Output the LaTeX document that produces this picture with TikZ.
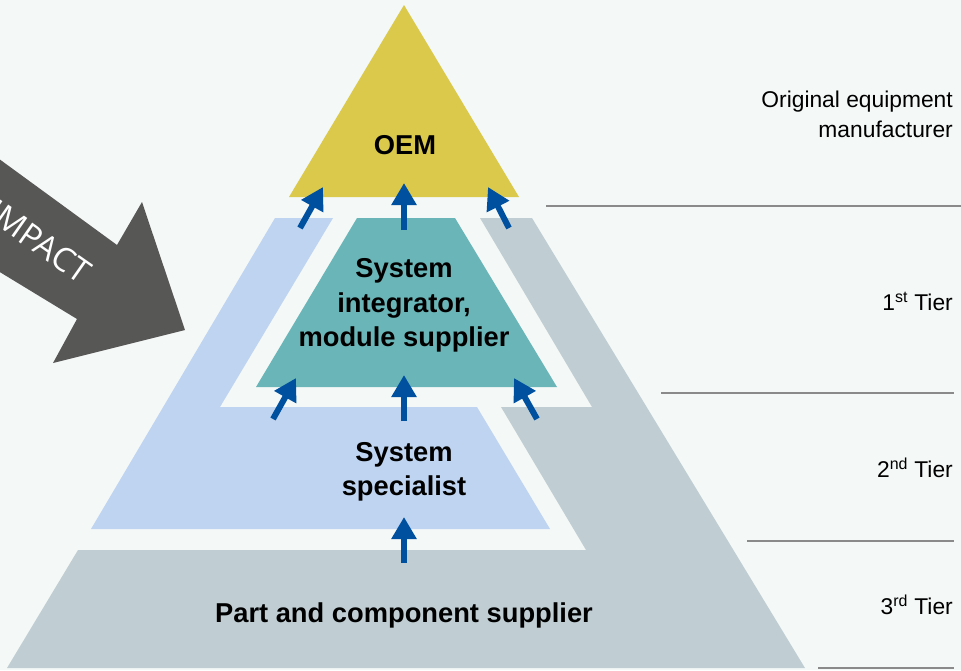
\documentclass[tikz,border=0pt]{standalone}
\usepackage{fontspec}
\setmainfont{Liberation Sans}
\newfontfamily\impactfont{Open Sans}
\usetikzlibrary{arrows.meta}
\definecolor{bg}{HTML}{F4F8F7}
\definecolor{oemyellow}{HTML}{DAC94A}
\definecolor{tealc}{HTML}{6AB5B7}
\definecolor{lightblue}{HTML}{BED4F0}
\definecolor{grayc}{HTML}{C0CED3}
\definecolor{darkgray}{HTML}{575756}
\definecolor{arrowblue}{HTML}{0050A0}
\definecolor{linegray}{HTML}{8A8A8A}
\begin{document}
\begin{tikzpicture}[x=1pt,y=-1pt,
  uparrow/.style={draw=arrowblue, line width=6pt, -{Triangle[length=22pt,width=24pt]}},
  tierlabel/.style={font=\fontsize{27.3}{34.5}\selectfont\bfseries, align=center, text=black, inner sep=0pt},
  sidelabel/.style={font=\fontsize{22.8}{30}\selectfont, anchor=base east, inner sep=0pt, text=black},
  divider/.style={draw=linegray, line width=1.4pt}]
\useasboundingbox (0,0) rectangle (961,670);
\fill[bg] (0,0) rectangle (961,670);
\clip (0,0) rectangle (961,670);

% impact arrow
\fill[darkgray] (-20,145) -- (117,245) -- (142,202) -- (185,330) -- (53,363) -- (77,319) -- (-20,260) -- cycle;
\node[font=\impactfont\fontsize{33}{33}\selectfont, text=white, rotate=-35, anchor=east, inner sep=0pt] (impact) at (87,275) {IMPACT};

% pyramid shapes
\fill[grayc] (480,218) -- (532,218) -- (805,668) -- (7,668) -- (78,550) -- (586,550) -- (501,407) -- (592,407) -- cycle;
\fill[lightblue] (275,218) -- (333,218) -- (220,407) -- (477,407) -- (550,529) -- (91,529) -- cycle;
\fill[tealc] (357,218) -- (455,218) -- (557,387) -- (256,387) -- cycle;
\fill[oemyellow] (404,5) -- (519,197) -- (289,197) -- cycle;

% labels
\node[tierlabel, anchor=base] (oem) at (405,154) {OEM};
\node[tierlabel] (tier1) at (404,305.5) {System\\integrator,\\module supplier};
\node[tierlabel] (tier2) at (404,472) {System\\specialist};
\node[tierlabel, anchor=base] (tier3) at (404,622) {Part and component supplier};

% arrow coordinates
\coordinate (a1t) at (300,228); \coordinate (a1h) at (323,187);
\coordinate (a2t) at (404,230); \coordinate (a2h) at (404,183);
\coordinate (a3t) at (509,228); \coordinate (a3h) at (488,187);
\coordinate (b1t) at (273,419); \coordinate (b1h) at (296,378);
\coordinate (b2t) at (404,421); \coordinate (b2h) at (404,375);
\coordinate (b3t) at (537,419); \coordinate (b3h) at (514,378);
\coordinate (c1t) at (404,563); \coordinate (c1h) at (404,517);
\foreach \t/\h in {a1t/a1h,a2t/a2h,a3t/a3h,b1t/b1h,b2t/b2h,b3t/b3h,c1t/c1h}
  \draw[uparrow] (\t) -- (\h);

% dividers
\coordinate (d1a) at (546,206); \coordinate (d1b) at (961,206);
\coordinate (d2a) at (661,393); \coordinate (d2b) at (954,393);
\coordinate (d3a) at (747,541); \coordinate (d3b) at (954,541);
\coordinate (d4a) at (818,668); \coordinate (d4b) at (954,668);
\draw[divider] (d1a) -- (d1b);
\draw[divider] (d2a) -- (d2b);
\draw[divider] (d3a) -- (d3b);
\draw[divider] (d4a) -- (d4b);

% side labels
\node[sidelabel] (oemA) at (953,107) {Original equipment};
\node[sidelabel] (oemB) at (953,137) {manufacturer};
\node[sidelabel] (t1) at (953,310) {1\textsuperscript{st} Tier};
\node[sidelabel] (t2) at (953,477) {2\textsuperscript{nd} Tier};
\node[sidelabel] (t3) at (953,614) {3\textsuperscript{rd} Tier};
\end{tikzpicture}
\end{document}
